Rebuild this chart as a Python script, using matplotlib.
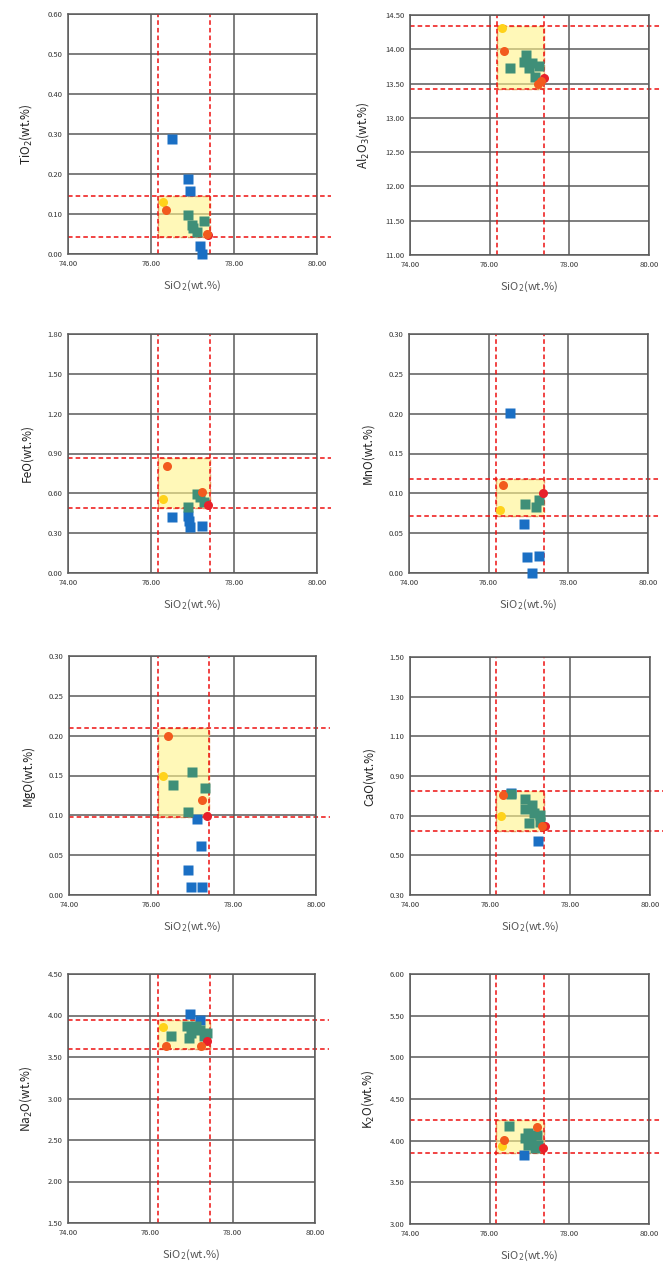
import numpy as np
import matplotlib
matplotlib.use("Agg")
import matplotlib.pyplot as plt
from matplotlib.patches import Rectangle

plt.rcParams['font.family'] = ['Noto Sans CJK JP', 'DejaVu Sans']

# oxide panels: label, y range, y step
oxides = ['TiO$_2$(wt.%)', 'Al$_2$O$_3$(wt.%)', 'FeO(wt.%)', 'MnO(wt.%)',
          'MgO(wt.%)', 'CaO(wt.%)', 'Na$_2$O(wt.%)', 'K$_2$O(wt.%)']
y_min = [0.0, 11.0, 0.0, 0.0, 0.0, 0.30, 1.50, 3.00]
y_max = [0.60, 14.50, 1.80, 0.30, 0.30, 1.50, 4.50, 6.00]
y_step = [0.10, 0.50, 0.30, 0.05, 0.05, 0.20, 0.50, 0.50]

# reference range (SiO2 low/high, oxide low/high) per panel
si_low = [76.17, 76.19, 76.17, 76.19, 76.17, 76.16, 76.19, 76.17]
si_high = [77.41, 77.37, 77.41, 77.38, 77.41, 77.36, 77.45, 77.36]
ox_low = [0.043, 13.426, 0.487, 0.0718, 0.0985, 0.622, 3.596, 3.852]
ox_high = [0.146, 14.344, 0.864, 0.118, 0.2095, 0.825, 3.942, 4.244]

# blue squares
blue_x = [[76.51, 76.88, 76.95, 77.19, 77.23],
          [],
          [76.51, 76.88, 76.92, 76.95, 77.22],
          [76.54, 76.88, 76.97, 77.26, 77.10],
          [77.10, 77.21, 76.90, 76.96, 77.24],
          [76.52, 77.19],
          [76.96, 77.20],
          [76.87]]
blue_y = [[0.287, 0.1875, 0.157, 0.020, 0.0],
          [],
          [0.424, 0.432, 0.394, 0.344, 0.357],
          [0.2014, 0.062, 0.020, 0.021, 0.0],
          [0.0955, 0.062, 0.0318, 0.0096, 0.0096],
          [0.812, 0.573],
          [4.022, 3.95],
          [3.832]]

# green squares
green_x = [[76.90, 76.98, 77.02, 77.10, 77.28],
           [76.50, 76.90, 76.87, 76.98, 77.07, 77.25, 77.15],
           [76.88, 77.10, 77.18, 77.28],
           [76.90, 77.20, 77.27],
           [76.52, 76.99, 76.88, 77.30],
           [76.52, 76.87, 76.88, 77.05, 76.97, 77.09, 77.26, 77.26],
           [76.51, 76.88, 76.98, 76.94, 77.12, 77.20, 77.30, 77.37, 77.04],
           [76.49, 76.89, 76.97, 77.05, 77.18, 77.22, 76.97, 77.15]]
green_y = [[0.0975, 0.0725, 0.065, 0.054, 0.0825],
           [13.73, 13.92, 13.82, 13.72, 13.795, 13.75, 13.60],
           [0.495, 0.595, 0.570, 0.532],
           [0.087, 0.083, 0.092],
           [0.138, 0.155, 0.104, 0.134],
           [0.807, 0.782, 0.736, 0.753, 0.661, 0.712, 0.703, 0.666],
           [3.749, 3.869, 3.79, 3.73, 3.869, 3.82, 3.749, 3.79, 3.85],
           [4.172, 4.032, 3.952, 4.012, 4.072, 3.952, 4.092, 3.912]]

# yellow circle
yellow_x = [76.29, 76.32, 76.29, 76.28, 76.29, 76.28, 76.30, 76.30]
yellow_y = [0.131, 14.315, 0.557, 0.0797, 0.150, 0.699, 3.861, 3.94]

# orange circles
orange_x = [[76.36, 77.36],
            [76.37, 77.22, 77.30],
            [76.38, 77.24],
            [76.35],
            [76.40, 77.22],
            [76.33, 77.30],
            [76.37, 77.23],
            [76.35, 77.20]]
orange_y = [[0.110, 0.049],
            [13.98, 13.49, 13.54],
            [0.808, 0.607],
            [0.110],
            [0.200, 0.119],
            [0.803, 0.647],
            [3.637, 3.637],
            [4.004, 4.164]]

# red circle
red_x = [77.38, 77.36, 77.38, 77.36, 77.36, 77.37, 77.38, 77.33]
red_y = [0.047, 13.585, 0.515, 0.0999, 0.0997, 0.649, 3.69, 3.912]

# axes boxes in pixels: left, top, right, bottom
boxes = [(68, 14, 317, 254), (410, 15, 649, 255),
         (68, 334, 317, 573), (409, 334, 648, 573),
         (69, 656, 316, 895), (410, 657, 650, 895),
         (68, 974, 315, 1223), (410, 974, 649, 1224)]

W, H = 664, 1264
fig = plt.figure(figsize=(W / 100, H / 100), dpi=100)

for i in range(8):
    l, t, r, b = boxes[i]
    ax = fig.add_axes([l / W, 1 - b / H, (r - l) / W, (b - t) / H])
    ax.set_xlim(74, 80)
    ax.set_ylim(y_min[i], y_max[i])
    ax.set_xticks(np.arange(74, 80.01, 2))
    ax.set_yticks(np.arange(y_min[i], y_max[i] + 1e-9, y_step[i]))
    ax.xaxis.set_major_formatter(plt.FormatStrFormatter('%.2f'))
    ax.yaxis.set_major_formatter(plt.FormatStrFormatter('%.2f'))
    ax.tick_params(length=0, labelsize=5.5, labelcolor='#333333', pad=4)
    ax.grid(True, color='#5a5a5a', linewidth=1.1, zorder=0)
    ax.set_axisbelow(True)
    for s in ax.spines.values():
        s.set_color('#5a5a5a')
        s.set_linewidth(1.1)

    rect = Rectangle((si_low[i], ox_low[i]), si_high[i] - si_low[i],
                     ox_high[i] - ox_low[i], facecolor='#fff48a', alpha=0.6,
                     edgecolor='none', zorder=1)
    ax.add_patch(rect)
    rect2 = Rectangle((si_low[i], ox_low[i]), si_high[i] - si_low[i],
                      ox_high[i] - ox_low[i], facecolor='none',
                      edgecolor='#e8a060', linewidth=1.0, linestyle='--', zorder=1.5)
    ax.add_patch(rect2)

    for xv in (si_low[i], si_high[i]):
        ax.axvline(xv, color='#ee1111', linewidth=1.1, linestyle=(0, (3, 2)), zorder=2)
    for yv in (ox_low[i], ox_high[i]):
        ax.axhline(yv, xmin=0, xmax=1.055, color='#ee1111', linewidth=1.1,
                   linestyle=(0, (3, 2)), zorder=2, clip_on=False)

    ax.plot(blue_x[i], blue_y[i], 's', color='#1a6fc4', ms=7, mec='none', zorder=3, clip_on=False)
    ax.plot(green_x[i], green_y[i], 's', color='#3f8f78', ms=7, mec='none', zorder=4)
    ax.plot([yellow_x[i]], [yellow_y[i]], 'o', color='#ffd21a', ms=6.5, mec='none', zorder=5)
    ax.plot([red_x[i]], [red_y[i]], 'o', color='#e8202a', ms=6.5, mec='none', zorder=5)
    ax.plot(orange_x[i], orange_y[i], 'o', color='#f25a1e', ms=6.5, mec='none', zorder=6)

    ax.set_xlabel('SiO$_2$(wt.%)', fontsize=8, color='#555555', labelpad=8)
    ax.set_ylabel(oxides[i], fontsize=8.5, color='#222222', labelpad=10)

fig.savefig('out.png', dpi=100)
